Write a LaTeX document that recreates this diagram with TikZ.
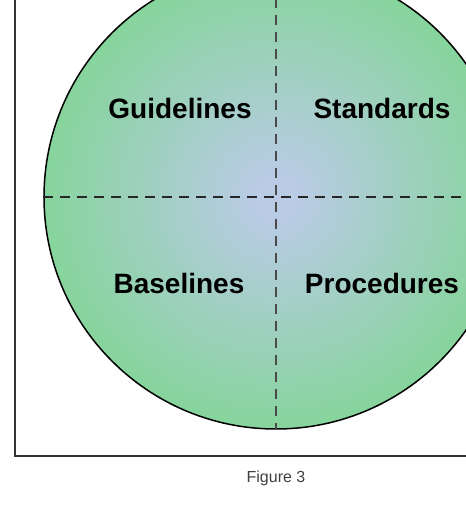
\documentclass[tikz,border=0pt]{standalone}
\usepackage{fontspec}
\setmainfont{Liberation Sans}
\definecolor{discin}{HTML}{BACBE6}
\definecolor{discout}{HTML}{86D49C}
\definecolor{framegray}{HTML}{333333}
\definecolor{splitgray}{HTML}{4A4A4A}
\pgfdeclareradialshading{discshade}{\pgfpoint{0bp}{0bp}}{color(0bp)=(discin); color(2bp)=(discin); color(25bp)=(discout); color(50bp)=(discout)}
\tikzset{
  quarter/.style={font=\fontsize{28}{32}\selectfont\bfseries, text=black},
  split/.style={line width=1.6pt, dash pattern=on 10pt off 7pt}
}
\begin{document}
\begin{tikzpicture}[x=1pt, y=-1pt]
		\useasboundingbox (0,0) rectangle (466,509);
		\clip (0,0) rectangle (466,509);
		
		%frame
		\coordinate (f_tl) at (15,-20);
		\coordinate (f_br) at (490,456);
		\draw[framegray, line width=2pt] (f_tl) rectangle (f_br);
		
		%disc
		\node[circle, minimum size=464pt, inner sep=0pt, shading=discshade, draw=black, line width=1.5pt] (disc) at (276,197) {};
		
		%split lines
		\draw[split, black!85] (disc.west) -- (disc.east);
		\draw[split, splitgray] (disc.north) -- (disc.south);
		
		%quarters
		\node[quarter] (guide) at (180,108) {Guidelines};
		\node[quarter] (stand) at (382,108) {Standards};
		\node[quarter] (base) at (179,283) {Baselines};
		\node[quarter] (proc) at (382,283) {Procedures};
		
		%caption
		\node[font=\fontsize{16}{19}\selectfont, text=black!75] (cap) at (276,478) {Figure 3};
	\end{tikzpicture}
\end{document}
